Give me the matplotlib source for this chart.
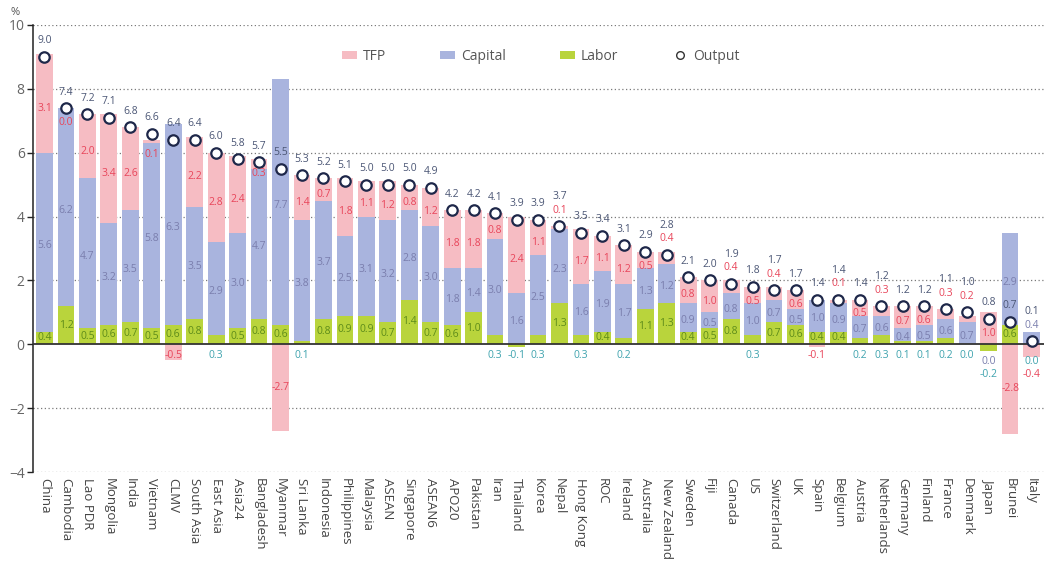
import matplotlib
matplotlib.use("Agg")
import matplotlib.pyplot as plt
from matplotlib.patches import Patch
from matplotlib.lines import Line2D
import numpy as np

countries = ["China", "Cambodia", "Lao PDR", "Mongolia", "India", "Vietnam", "CLMV",
             "South Asia", "East Asia", "Asia24", "Bangladesh", "Myanmar", "Sri Lanka",
             "Indonesia", "Philippines", "Malaysia", "ASEAN", "Singapore", "ASEAN6",
             "APO20", "Pakistan", "Iran", "Thailand", "Korea", "Nepal", "Hong Kong",
             "ROC", "Ireland", "Australia", "New Zealand", "Sweden", "Fiji", "Canada",
             "US", "Switzerland", "UK", "Spain", "Belgium", "Austria", "Netherlands",
             "Germany", "Finland", "France", "Denmark", "Japan", "Brunei", "Italy"]

output = [9.0, 7.4, 7.2, 7.1, 6.8, 6.6, 6.4, 6.4, 6.0, 5.8, 5.7, 5.5, 5.3, 5.2, 5.1,
          5.0, 5.0, 5.0, 4.9, 4.2, 4.2, 4.1, 3.9, 3.9, 3.7, 3.5, 3.4, 3.1, 2.9, 2.8,
          2.1, 2.0, 1.9, 1.8, 1.7, 1.7, 1.4, 1.4, 1.4, 1.2, 1.2, 1.2, 1.1, 1.0, 0.8,
          0.7, 0.1]
tfp = [3.1, 0.0, 2.0, 3.4, 2.6, 0.1, -0.5, 2.2, 2.8, 2.4, 0.3, -2.7, 1.4, 0.7, 1.8,
       1.1, 1.2, 0.8, 1.2, 1.8, 1.8, 0.8, 2.4, 1.1, 0.1, 1.7, 1.1, 1.2, 0.5, 0.4,
       0.8, 1.0, 0.4, 0.5, 0.4, 0.6, -0.1, 0.1, 0.5, 0.3, 0.7, 0.6, 0.3, 0.2, 1.0,
       -2.8, -0.4]
capital = [5.6, 6.2, 4.7, 3.2, 3.5, 5.8, 6.3, 3.5, 2.9, 3.0, 4.7, 7.7, 3.8, 3.7, 2.5,
           3.1, 3.2, 2.8, 3.0, 1.8, 1.4, 3.0, 1.6, 2.5, 2.3, 1.6, 1.9, 1.7, 1.3, 1.2,
           0.9, 0.5, 0.8, 1.0, 0.7, 0.5, 1.0, 0.9, 0.7, 0.6, 0.4, 0.5, 0.6, 0.7, 0.0,
           2.9, 0.4]
labor = [0.4, 1.2, 0.5, 0.6, 0.7, 0.5, 0.6, 0.8, 0.3, 0.5, 0.8, 0.6, 0.1, 0.8, 0.9,
         0.9, 0.7, 1.4, 0.7, 0.6, 1.0, 0.3, -0.1, 0.3, 1.3, 0.3, 0.4, 0.2, 1.1, 1.3,
         0.4, 0.5, 0.8, 0.3, 0.7, 0.6, 0.4, 0.4, 0.2, 0.3, 0.1, 0.1, 0.2, 0.0, -0.2,
         0.6, 0.0]

# label placement hints (style only)
tfp_above = {"Nepal", "New Zealand", "Canada", "Switzerland", "Belgium",
             "Netherlands", "France", "Denmark"}
cap_above = {"Italy"}

C_TFP = "#F6BCC3"
C_CAP = "#A9B4DE"
C_LAB = "#B9D43C"
T_TFP = "#E8455A"
T_CAP = "#7A7EAD"
T_LAB = "#5E8C1A"
T_LAB_OUT = "#3FA3AE"
T_OUT = "#4B5675"

plt.rcParams['font.family'] = ['Open Sans', 'DejaVu Sans']

fig = plt.figure(figsize=(10.44, 5.64), dpi=100)
ax = fig.add_axes([0.0316, 0.1631, 0.9684, 0.7926])

n = len(countries)
x = np.arange(n)
w = 0.78

pos_base = np.zeros(n)
neg_base = np.zeros(n)
segs = {}
for name, vals, col in [("labor", labor, C_LAB), ("capital", capital, C_CAP), ("tfp", tfp, C_TFP)]:
    v = np.array(vals)
    bottoms = np.where(v >= 0, pos_base, neg_base)
    ax.bar(x, v, w, bottom=bottoms, color=col, zorder=2, linewidth=0)
    segs[name] = (bottoms.copy(), v.copy())
    pos_base = pos_base + np.where(v >= 0, v, 0)
    neg_base = neg_base + np.where(v < 0, v, 0)

# grid lines
for gy in [-4, -2, 2, 4, 6, 8, 10]:
    ax.axhline(gy, color="#7a7a7a", lw=0.9, ls=(0, (1, 2.0)), zorder=0)
ax.axhline(0, color="#333333", lw=1.3, zorder=3)

ax.plot(x, output, ls="none", marker="o", ms=7.5, mfc="white", mec="#1E2749",
        mew=1.6, zorder=5)

fs = 7.5
for i in range(n):
    c = countries[i]
    above = []
    below = []
    lb = labor[i]
    # capital
    cb, cv = segs["capital"][0][i], capital[i]
    if c in cap_above:
        above.append((capital[i], T_CAP))
    elif cv < 0.05:
        below.append((cv, T_CAP))
    else:
        ax.text(x[i], cb + cv / 2 - 0.1, f"{cv:.1f}", ha="center", va="center",
                fontsize=fs, color=T_CAP, zorder=6)
    # labor
    if lb < 0.35:
        below.append((lb, T_LAB_OUT))
    else:
        ax.text(x[i], lb / 2, f"{lb:.1f}", ha="center", va="center",
                fontsize=fs, color=T_LAB, zorder=6)
    # tfp
    tb, tv = segs["tfp"][0][i], tfp[i]
    if c in tfp_above:
        above.append((tv, T_TFP))
    elif tv >= 0:
        top = tb + tv
        yy = min(tb + tv / 2 - 0.15, top - 0.45)
        ax.text(x[i], yy, f"{tv:.1f}", ha="center", va="center",
                fontsize=fs, color=T_TFP, zorder=6)
    elif tv > -0.6:
        below.append((tv, T_TFP))
    else:
        ax.text(x[i], tb + tv / 2, f"{tv:.1f}", ha="center", va="center",
                fontsize=fs, color=T_TFP, zorder=6)
    # stacks
    start = -0.55 if len(below) > 1 else -0.35
    for k, (v, col) in enumerate(below):
        ax.text(x[i], start - 0.4 * k, f"{v:.1f}", ha="center", va="center",
                fontsize=fs, color=col, zorder=6)
    yy = output[i] + 0.5
    for v, col in above:
        ax.text(x[i], yy, f"{v:.1f}", ha="center", va="center",
                fontsize=fs, color=col, zorder=6)
        yy += 0.42
    ax.text(x[i], yy, f"{output[i]:.1f}", ha="center", va="center",
            fontsize=fs, color=T_OUT, zorder=6)

ax.set_xlim(-0.536, 46.58)
ax.set_ylim(-4, 10)
ax.set_yticks(range(-4, 11, 2))
ax.tick_params(axis="y", labelsize=10, labelcolor="#666666", length=4, color="#222222",
               width=1, pad=2)
ax.set_xticks(x, countries, rotation=-90, ha="center", va="top")
ax.tick_params(axis="x", length=0, labelsize=9.5, labelcolor="#444444", pad=4)
for s in ["top", "right", "bottom"]:
    ax.spines[s].set_visible(False)
ax.spines["left"].set_color("#222222")
ax.spines["left"].set_linewidth(1.1)

fig.text(0.0145, 0.978, "%", fontsize=8, color="#555555", ha="center", va="center")

handles = [Patch(facecolor=C_TFP, edgecolor="none", label="TFP"),
           Patch(facecolor=C_CAP, edgecolor="none", label="Capital"),
           Patch(facecolor=C_LAB, edgecolor="none", label="Labor"),
           Line2D([], [], ls="none", marker="o", ms=5.5, mfc="white", mec="#333333",
                  mew=1.0, label="Output")]
fig.legend(handles=handles, loc="center", bbox_to_anchor=(0.518, 0.9), ncol=4,
           frameon=False, fontsize=10, handlelength=1.1, handleheight=0.5,
           handletextpad=0.4, columnspacing=3.9, labelcolor="#555555")

fig.savefig("out.png", dpi=100, facecolor="white")
